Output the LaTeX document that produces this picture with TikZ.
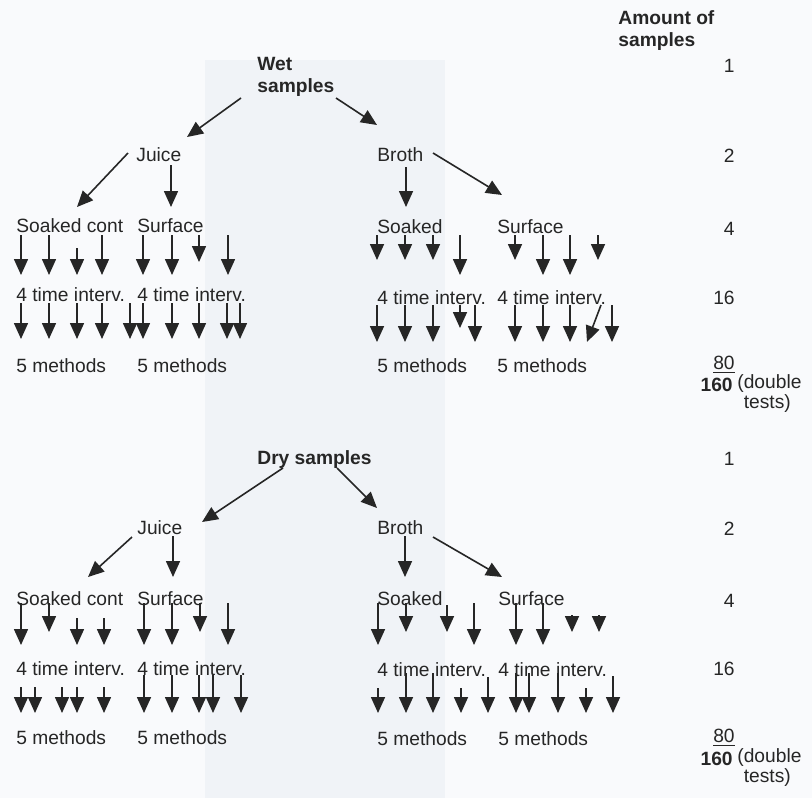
\documentclass[tikz,border=0pt]{standalone}
\usepackage{fontspec}
\setmainfont{Liberation Sans}
\usetikzlibrary{arrows.meta}
\definecolor{ink}{gray}{0.15}
\definecolor{paper}{RGB}{249,250,252}
\definecolor{band}{RGB}{240,243,247}
\tikzset{arrow/.style={->, >={Triangle[length=8pt, width=7pt]}, line width=0.8pt, draw=ink}}
\tikzset{lbl/.style={anchor=base west, inner sep=0pt, text=ink, font=\fontsize{9.6}{11}\selectfont}}
\tikzset{head/.style={lbl, align=left, font=\fontsize{9.6}{11}\selectfont\bfseries}}
\tikzset{num/.style={lbl, anchor=base east}}
\tikzset{note/.style={lbl, align=left, font=\fontsize{9.6}{8.5}\selectfont}}

\begin{document}
\begin{tikzpicture}[x=0.5pt, y=-0.5pt]
    \fill[paper] (0,0) rectangle (812,798);
    \fill[band] (205,60) rectangle (445,798);
    \useasboundingbox (0,0) rectangle (812,798);

    \node[head] (amount) at (618, 46) {Amount of\\samples};

    \node[head] (wet) at (257, 92) {Wet\\samples};
    \node[lbl] (wjuice) at (136, 161) {Juice};
    \node[lbl] (wbroth) at (377, 161) {Broth};
    \node[lbl] (wjsoak) at (16, 232) {Soaked cont};
    \node[lbl] (wjsurf) at (137, 232) {Surface};
    \node[lbl] (wbsoak) at (377, 233) {Soaked};
    \node[lbl] (wbsurf) at (497, 233) {Surface};
    \node[lbl] (wjsoakt) at (16, 301) {4 time interv.};
    \node[lbl] (wjsurft) at (137, 301) {4 time interv.};
    \node[lbl] (wbsoakt) at (377, 304) {4 time interv.};
    \node[lbl] (wbsurft) at (497, 304) {4 time interv.};
    \node[lbl] (wjsoakm) at (16, 372) {5 methods};
    \node[lbl] (wjsurfm) at (137, 372) {5 methods};
    \node[lbl] (wbsoakm) at (377, 372) {5 methods};
    \node[lbl] (wbsurfm) at (497, 372) {5 methods};
    \node[num] (wone) at (735, 72) {1};
    \node[num] (wtwo) at (735, 162) {2};
    \node[num] (wfour) at (735, 235) {4};
    \node[num] (wsixteen) at (735, 304) {16};
    \node[num] (weighty) at (735, 369) {\underline{80}};
    \node[num, font=\fontsize{9.6}{11}\selectfont\bfseries] (wtotal) at (733, 391) {160};
    \node[note] (wdouble) at (737, 408) {(double\\\hphantom{(}tests)};

    \draw[arrow] ([shift={(-16,6)}]wet.base west) -- ([shift={(51,-24)}]wjuice.base west);
    \draw[arrow] ([shift={(79,6)}]wet.base west) -- ([shift={(0,-36)}]wbroth.base west);
    \draw[arrow] ([shift={(-8,-8)}]wjuice.base west) -- ([shift={(61,-25)}]wjsoak.base west);
    \draw[arrow] ([shift={(35,4)}]wjuice.base west) -- ([shift={(34,-25)}]wjsurf.base west);
    \draw[arrow] ([shift={(29,6)}]wbroth.base west) -- ([shift={(29,-26)}]wbsoak.base west);
    \draw[arrow] ([shift={(56,-8)}]wbroth.base west) -- ([shift={(5,-38)}]wbsurf.base west);

    \foreach \x/\a/\b in {21/235/275, 49/235/275, 77/248/275, 102/235/275,
            143/235/275, 172/235/275, 199/235/262, 228/235/275,
            377/235/260, 405/235/260, 433/235/260, 460/235/275,
            515/235/260, 543/235/275, 570/235/275, 598/235/260}
        \draw[arrow] (\x,\a) -- (\x,\b);
    \foreach \x/\a/\b in {21/303/339, 49/303/339, 77/303/339, 102/303/339, 130/303/339,
            143/303/339, 172/303/339, 199/303/339, 227/303/339, 240/303/339,
            377/305/342, 405/305/342, 433/305/342, 460/305/328, 475/305/342,
            515/305/342, 543/305/342, 570/305/342, 612/305/342}
        \draw[arrow] (\x,\a) -- (\x,\b);
    \draw[arrow] (601,305) -- (587,342);

    \node[head] (dry) at (257, 464) {Dry samples};
    \node[lbl] (djuice) at (137, 534) {Juice};
    \node[lbl] (dbroth) at (377, 534) {Broth};
    \node[lbl] (djsoak) at (16, 605) {Soaked cont};
    \node[lbl] (djsurf) at (137, 605) {Surface};
    \node[lbl] (dbsoak) at (377, 605) {Soaked};
    \node[lbl] (dbsurf) at (498, 605) {Surface};
    \node[lbl] (djsoakt) at (16, 675) {4 time interv.};
    \node[lbl] (djsurft) at (137, 675) {4 time interv.};
    \node[lbl] (dbsoakt) at (377, 676) {4 time interv.};
    \node[lbl] (dbsurft) at (498, 676) {4 time interv.};
    \node[lbl] (djsoakm) at (16, 744) {5 methods};
    \node[lbl] (djsurfm) at (137, 744) {5 methods};
    \node[lbl] (dbsoakm) at (377, 745) {5 methods};
    \node[lbl] (dbsurfm) at (498, 745) {5 methods};
    \node[num] (done) at (735, 465) {1};
    \node[num] (dtwo) at (735, 535) {2};
    \node[num] (dfour) at (735, 607) {4};
    \node[num] (dsixteen) at (735, 675) {16};
    \node[num] (deighty) at (735, 742) {\underline{80}};
    \node[num, font=\fontsize{9.6}{11}\selectfont\bfseries] (dtotal) at (733, 765) {160};
    \node[note] (ddouble) at (737, 782) {(double\\\hphantom{(}tests)};

    \draw[arrow] ([shift={(26,4)}]dry.base west) -- ([shift={(65,-12)}]djuice.base west);
    \draw[arrow] ([shift={(80,4)}]dry.base west) -- ([shift={(0,-26)}]dbroth.base west);
    \draw[arrow] ([shift={(-5,3)}]djuice.base west) -- ([shift={(72,-28)}]djsoak.base west);
    \draw[arrow] ([shift={(36,2)}]djuice.base west) -- ([shift={(36,-28)}]djsurf.base west);
    \draw[arrow] ([shift={(28,2)}]dbroth.base west) -- ([shift={(28,-28)}]dbsoak.base west);
    \draw[arrow] ([shift={(56,3)}]dbroth.base west) -- ([shift={(4,-28)}]dbsurf.base west);

    \foreach \x/\a/\b in {21/603/645, 49/603/632, 77/618/645, 104/618/645,
            144/603/645, 172/603/645, 200/603/632, 228/603/645,
            378/603/645, 406/603/632, 447/605/632, 474/603/645,
            516/603/645, 543/603/645, 572/615/632, 599/615/632}
        \draw[arrow] (\x,\a) -- (\x,\b);
    \foreach \x/\a/\b in {21/687/713, 35/687/713, 62/687/713, 77/687/713, 104/687/713,
            144/675/713, 172/675/713, 199/675/713, 213/675/713, 241/675/713,
            378/688/713, 406/673/713, 433/673/713, 461/688/713, 488/677/713,
            516/673/713, 529/673/713, 558/673/713, 586/688/713, 613/676/713}
        \draw[arrow] (\x,\a) -- (\x,\b);
\end{tikzpicture}
\end{document}
